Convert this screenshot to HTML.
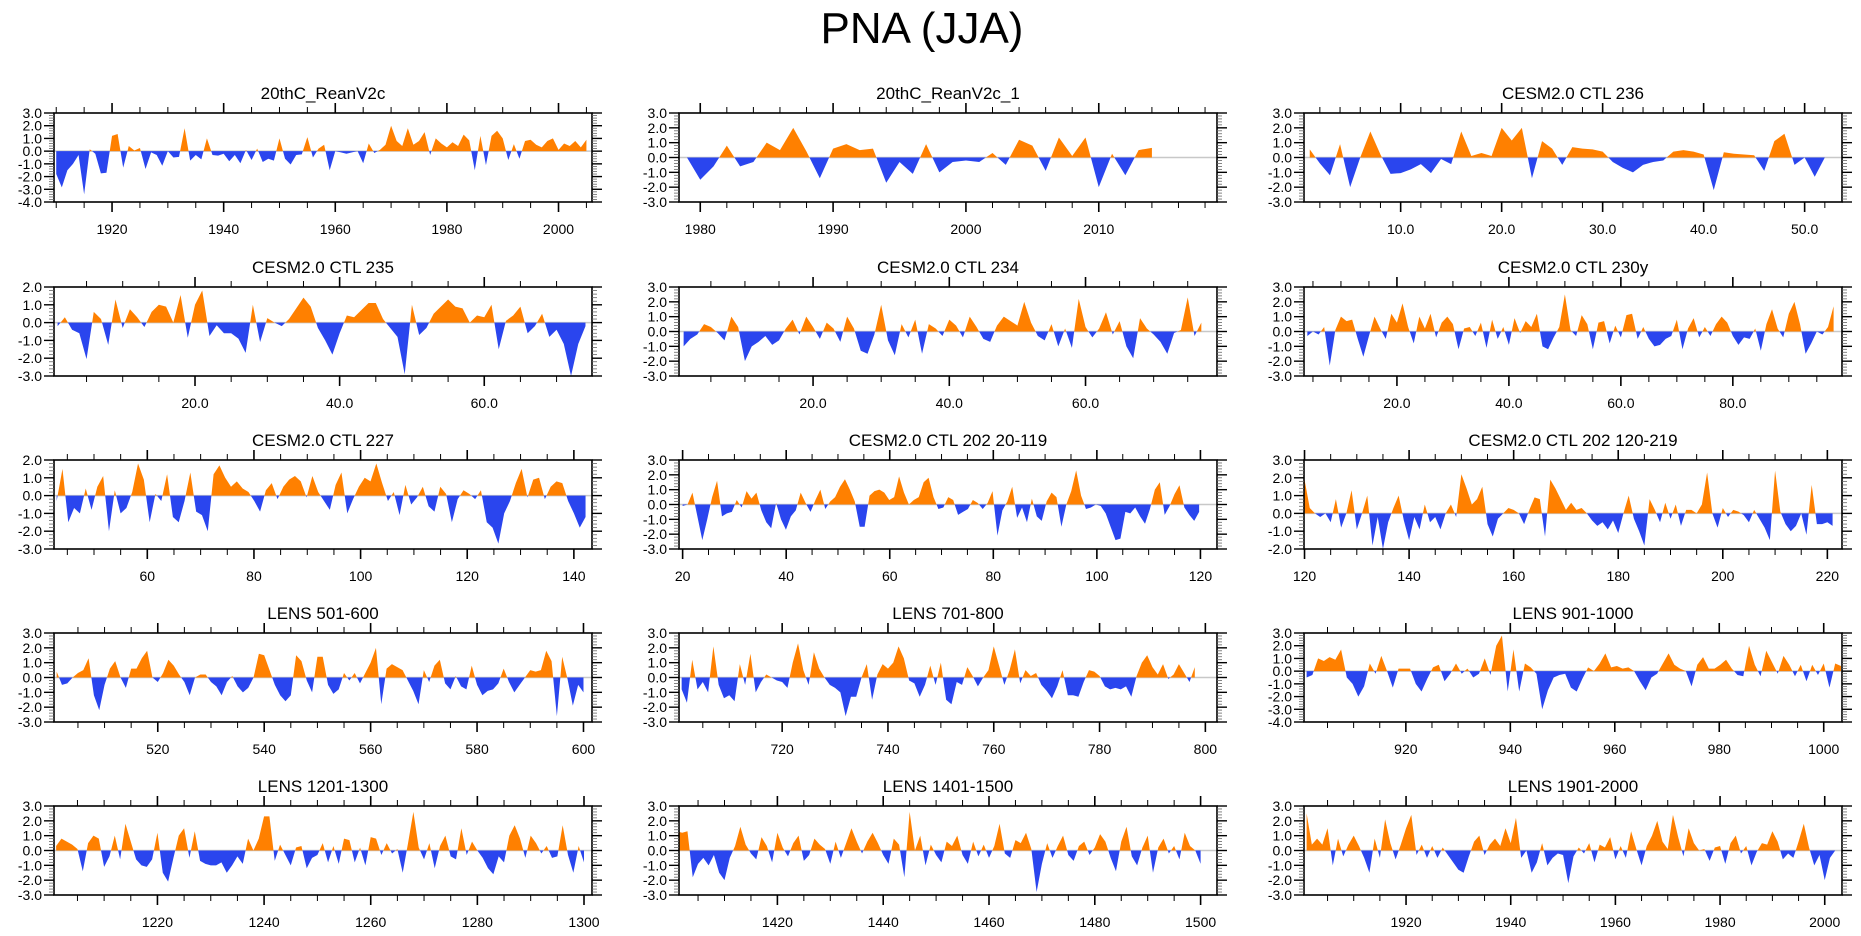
<!DOCTYPE html>
<html><head><meta charset="utf-8"><title>PNA (JJA)</title>
<style>html,body{margin:0;padding:0;background:#fff}svg{display:block}</style></head>
<body>
<svg id="chart" xmlns="http://www.w3.org/2000/svg" width="1861" height="936" viewBox="0 0 1861 936" font-family="Liberation Sans, sans-serif">
<rect width="1861" height="936" fill="#fff"/>
<text x="922" y="43" font-size="44" text-anchor="middle" fill="#000">PNA (JJA)</text>
</svg>
<script>
const titles=["20thC_ReanV2c","20thC_ReanV2c_1","CESM2.0 CTL 236","CESM2.0 CTL 235","CESM2.0 CTL 234","CESM2.0 CTL 230y","CESM2.0 CTL 227","CESM2.0 CTL 202 20-119","CESM2.0 CTL 202 120-219","LENS 501-600","LENS 701-800","LENS 901-1000","LENS 1201-1300","LENS 1401-1500","LENS 1901-2000"];
const starts=[1910,1979,1,1,1,4,43,20,120,501,701,901,1201,1401,1901];
const steps=[1,1,1,1,1,1,1.09,0.95,1.0,1,1,1.1,1,1,1];
const xMins=[1909.6,1978.4,0.43,0.5,0.32,3.4,42.5,19.3,119.9,500.5,700.5,900.5,1200.6,1401.4,1900.5];
const xMaxs=[2006,2018.9,53.7,74.9,79.3,99.5,143.4,123.2,222.8,601.6,802.2,1003.5,1301.5,1503.1,2003.3];
const yTops=[3,3,3,2,3,3,2,3,3,3,3,3,3,3,3];
const yBots=[-4,-3,-3,-3,-3,-3,-3,-3,-2,-3,-3,-4,-3,-3,-3];
const majorSteps=[20,10,10,20,20,20,20,20,20,20,20,20,20,20,20];
const minorSteps=[5,2,2,5,5,5,5,5,5,5,5,5,5,5,5];
const labelDecimals=[0,0,1,1,1,1,0,0,0,0,0,0,0,0,0];

const v1=[-1.8,-2.85,-1.5,-1.0,-0.3,-3.4,0.15,-0.2,-1.75,-1.7,1.2,1.35,-1.3,0.4,0.05,0.25,-1.4,-0.1,-0.3,-1.15,0.0,-0.5,-0.45,1.8,-0.75,-0.3,-0.65,1.0,-0.3,-0.35,-0.2,-0.8,-0.3,-0.95,0.1,-0.7,0.2,-0.85,-0.6,-0.75,1.0,-0.6,-1.05,-0.3,-0.25,1.1,-0.5,0.2,0.5,-1.5,0.0,-0.1,-0.2,-0.1,0.0,-0.95,0.6,-0.15,0.1,0.5,2.0,0.8,0.4,1.8,0.5,0.8,1.5,-0.3,1.0,0.6,0.3,0.7,0.4,1.3,0.85,-1.5,1.2,-1.1,1.2,1.6,1.0,-0.7,0.55,-0.6,0.8,0.9,0.5,0.3,0.8,1.0,0.1,0.6,0.4,0.8,0.3,0.9];
const v2=[0,-1.5,-0.6,0.8,-0.6,-0.3,1.0,0.5,2.0,0.4,-1.4,0.6,0.9,0.5,0.6,-1.7,-0.3,-1.1,0.9,-1.0,-0.3,-0.2,-0.3,0.3,-0.5,1.2,0.8,-0.9,1.35,0.1,1.35,-2.0,0.25,-1.2,0.5,0.65];
const v3=[0.55,-0.4,-1.2,0.9,-2.0,0.0,1.75,0.2,-1.1,-1.05,-0.8,-0.45,-1.05,-0.1,-0.45,1.75,0.1,0.3,0.1,2.0,1.15,2.0,-1.4,1.1,0.6,-0.5,0.7,0.6,0.55,0.4,-0.3,-0.7,-1.0,-0.5,-0.3,-0.2,0.4,0.5,0.4,0.2,-2.2,0.35,0.25,0.2,0.15,-0.9,1.1,1.6,-0.5,0.0,-1.3,0.0];
const v4=[-0.2,0.3,-0.4,-0.6,-2.05,0.6,0.2,-1.25,1.3,-0.3,0.75,0.3,-0.25,0.6,1.0,0.9,0.0,1.55,-0.85,1.0,1.8,-0.75,-0.15,-0.6,-0.6,-0.9,-1.7,1.0,-1.1,0.25,0.0,-0.2,0.2,0.8,1.4,0.9,-0.3,-1.0,-1.8,-0.6,0.4,0.3,0.7,1.1,1.1,0.2,-0.3,-0.8,-2.9,1.0,-0.7,-0.3,0.5,0.9,1.3,0.9,0.8,0.0,0.4,0.3,1.0,-1.5,0.1,0.4,0.9,-0.6,-0.2,0.5,-0.8,-0.4,-1.2,-3.0,-1.2,-0.2];
const v5=[-1.0,-0.5,-0.2,0.5,0.3,-0.1,-0.6,1.0,0.3,-2.0,-1.0,-0.7,-0.3,-0.9,-0.6,0.2,0.8,-0.2,1.0,0.3,-0.5,0.6,0.2,-0.7,1.0,0.2,-1.3,-1.5,-0.2,1.8,-0.6,-1.6,0.5,-0.4,0.8,-1.5,0.5,0.2,-0.3,0.8,0.4,-0.4,1.0,0.3,-0.5,-0.7,0.4,1.0,0.7,0.4,2.0,0.6,-0.3,-0.6,0.5,-1.0,0.2,-1.1,2.2,0.3,-0.4,0.2,1.3,-0.2,0.7,-1.0,-1.8,0.9,0.2,-0.2,-0.7,-1.5,-0.1,0.1,2.3,-0.3,0.6];
const v6=[-0.3,0.0,-0.2,0.3,-2.3,0.1,1.0,0.7,0.8,-0.5,-1.7,-0.3,1.0,0.2,-0.5,1.2,0.6,1.9,0.3,-0.8,1.0,0.2,1.2,-0.4,0.6,1.0,0.5,-1.2,0.2,0.3,-0.3,0.6,-1.1,0.8,-0.5,0.3,-0.9,0.9,-0.1,0.7,0.3,1.2,-1.0,-1.2,-0.4,0.3,2.5,0.1,-0.3,1.1,0.5,-1.2,0.6,0.7,-0.8,0.4,-0.4,1.1,1.2,-0.5,0.3,-0.5,-1.0,-0.9,-0.5,-0.3,0.8,-1.2,0.2,0.9,-0.4,0.3,-0.3,0.5,1.0,0.6,-0.3,-0.9,-0.4,-0.5,0.2,-1.3,0.5,1.5,0.2,-0.4,1.2,2.0,0.5,-1.5,-0.8,0.0,-0.2,0.3,1.7];
const v7=[-0.3,1.5,-1.5,-0.7,-1.0,0.4,-0.8,0.5,1.1,-2.0,0.3,-1.0,-0.7,0.2,1.8,0.9,-1.5,0.1,-0.3,1.2,-1.2,-1.5,-0.3,1.3,-0.9,-1.1,-2.0,1.2,1.7,1.0,0.5,0.8,0.4,0.2,-0.3,-0.9,0.3,0.7,-0.2,0.5,0.9,1.1,0.8,-0.1,1.1,0.2,-0.3,-0.8,0.6,1.3,-1.0,-0.2,0.5,1.0,0.8,1.8,0.7,-0.3,0.2,-1.1,0.6,-0.5,-0.1,0.5,-0.6,-0.9,0.5,0.1,-1.5,-0.2,0.3,0.1,-0.2,0.3,-1.5,-1.8,-2.7,-1.0,-0.3,0.7,1.5,-0.1,0.9,1.0,-0.2,0.5,0.8,0.7,-0.3,-1.0,-1.8,-1.2];
const v8=[-0.1,0.0,0.8,-0.8,-2.4,-1.0,0.5,1.6,-0.8,-0.6,-0.5,0.3,-0.2,0.9,0.4,0.8,-0.4,-1.2,-1.6,0.1,-1.0,-1.7,-0.8,-0.4,0.8,0.1,-0.5,0.3,1.0,-0.3,0.2,0.5,1.2,1.7,1.0,0.2,-1.5,-1.5,0.6,0.9,1.0,0.8,0.3,0.5,1.9,0.8,0.0,0.3,0.5,1.5,1.8,0.5,-0.3,-0.2,0.5,0.3,-0.7,-0.5,-0.3,0.3,0.1,-0.3,0.1,0.9,-2.1,-0.4,0.2,1.2,-0.9,-0.2,-1.2,0.4,-0.8,-1.1,0.2,0.8,0.5,-1.5,0.0,0.9,2.3,0.6,-0.3,-0.2,0.0,-0.1,-0.6,-1.5,-2.4,-2.3,-0.5,-0.6,-0.2,-0.8,-1.3,-0.3,1.0,1.5,-0.7,-0.1,0.7,1.3,-0.2,-0.7,-1.1,-0.5];
const v9=[1.9,0.3,0.0,-0.2,0.0,-0.5,0.8,-0.8,0.0,1.3,-0.9,0.0,1.0,-1.8,-0.2,-2.0,-0.5,0.3,1.0,-0.4,-1.5,-0.2,-0.9,0.5,-0.5,-0.2,-0.9,0.0,0.5,-0.2,2.2,1.4,0.5,0.8,1.5,-0.6,-1.3,-0.3,0.0,0.3,0.2,0.0,-0.6,0.2,0.9,0.8,-1.3,1.9,1.4,0.8,0.2,0.6,0.2,0.3,0.0,-0.4,-0.7,-0.5,-0.9,-0.4,-1.1,0.0,1.0,-0.3,-1.0,-1.8,0.8,0.2,-0.5,0.6,-0.3,0.5,-0.7,0.2,0.2,0.0,0.5,2.3,0.0,-0.8,0.3,-0.2,0.2,0.1,-0.1,-0.5,0.2,-0.3,-0.8,-1.5,2.4,0.1,-0.6,-1.0,-0.7,0.0,-1.2,1.6,-0.6,-0.6,-0.5,-0.7];
const v10=[0.4,-0.5,-0.4,0.0,0.3,0.5,1.3,-1.2,-2.2,-0.5,0.6,1.1,0.0,-0.7,0.6,0.6,1.3,1.8,0.0,-0.3,0.3,1.2,0.8,0.2,-0.3,-1.2,0.0,0.2,0.2,-0.3,-0.6,-1.2,-0.3,0.1,-0.6,-1.0,-0.7,0.0,1.6,1.5,0.5,-0.5,-1.2,-1.6,-1.2,1.5,1.1,-0.2,-1.0,1.4,1.4,-0.5,-1.1,-0.8,0.3,-0.2,0.3,-0.4,0.3,1.0,2.0,-1.8,0.6,0.9,0.7,0.5,-0.2,-0.9,-1.8,0.5,-0.3,0.8,1.2,-0.4,-0.8,0.1,-0.6,-0.8,0.8,-0.5,-1.2,-0.9,-0.8,-0.4,0.6,-0.3,-1.0,-0.5,0.0,0.5,0.4,0.5,1.8,1.1,-2.6,1.4,-0.1,-1.9,-0.5,-1.0];
const v11=[-0.8,-1.7,1.2,-0.8,-0.3,-1.0,2.1,-0.5,-1.4,-1.2,-1.6,0.9,-0.5,1.6,-1.0,-0.3,0.2,0.0,-0.2,-0.3,-0.7,1.0,2.3,0.5,-0.5,1.7,0.6,0.0,-0.5,-0.7,-1.0,-2.6,-1.3,-1.3,0.0,0.9,-1.5,0.2,0.9,0.6,1.0,2.1,1.3,-0.2,-0.4,-1.3,-0.5,0.8,-0.5,1.0,-1.5,-1.8,-0.3,-0.5,0.7,0.1,-0.6,0.0,0.5,2.1,0.8,-0.5,0.5,1.9,-0.4,0.5,0.1,0.3,-0.5,-0.9,-1.4,-0.6,0.5,-1.2,-1.2,-1.3,-0.3,0.5,0.4,0.1,-0.6,-0.8,-0.7,-0.8,-0.6,-1.3,0.1,1.0,1.5,0.7,0.2,0.9,-0.1,0.2,0.9,0.3,-0.3,0.7];
const v12=[-0.5,-0.3,1.0,0.8,1.1,0.9,1.7,-0.5,-1.0,-2.0,-1.2,0.6,-0.2,1.2,0.0,-1.3,0.2,0.2,0.2,-1.0,-1.6,-0.6,0.3,0.5,-0.8,-0.2,0.6,-0.2,0.2,-0.5,-0.2,1.0,-0.3,2.0,2.8,-1.6,1.7,-1.6,0.6,0.3,-0.2,-3.0,-1.5,-0.5,-0.3,-0.2,-1.3,-1.6,-0.6,0.3,0.0,0.6,1.4,0.3,0.4,0.2,0.3,0.0,-0.8,-1.5,-0.5,-0.2,0.6,1.4,0.5,0.2,0.0,-1.2,0.5,1.1,0.2,0.2,0.5,0.9,0.2,-0.3,-0.4,2.0,0.5,-0.4,1.6,0.7,-0.2,1.2,0.5,-0.4,0.5,-0.8,0.5,-0.3,0.6,-1.3,0.6,0.4];
const v13=[0.3,0.8,0.6,0.4,0.1,-1.4,0.5,1.0,0.8,-1.1,-0.4,1.0,-0.6,1.8,0.6,-0.6,-1.0,-1.1,-0.6,1.2,-1.5,-2.1,-0.5,1.0,1.5,-0.5,1.3,-0.7,-0.9,-1.0,-1.0,-0.8,-1.5,-1.0,-0.4,-0.9,0.8,0.0,0.8,2.3,2.3,-0.7,0.4,-0.3,-1.0,0.2,0.3,-1.2,-0.5,-0.3,0.5,-0.8,0.3,-0.9,0.8,0.7,-0.8,0.2,-1.0,0.9,0.8,-0.3,0.5,-0.2,0.1,-1.5,0.5,2.6,0.2,-0.6,0.5,-1.2,0.3,1.0,-0.4,-0.6,1.5,-0.3,0.6,0.0,-0.5,-1.2,-1.6,-0.4,-0.8,1.0,1.7,0.8,-0.5,1.0,0.5,-0.2,0.3,-0.5,-0.4,1.7,-0.3,-1.5,0.3,-0.8];
const v14=[1.3,1.2,1.3,-1.8,-0.9,-0.5,-1.0,-0.3,-1.5,-2.0,-0.5,0.3,1.6,0.4,-0.2,-0.6,0.9,0.3,-0.8,1.2,0.2,-0.4,0.5,1.0,-0.7,-0.3,0.8,0.4,0.1,-0.9,0.6,-0.5,0.5,1.5,0.6,-0.2,0.6,1.2,0.5,-0.3,-0.9,0.8,0.4,-1.8,2.6,0.0,1.0,-1.0,0.4,-0.3,-0.8,0.6,0.3,1.0,-0.3,-0.9,0.6,-0.4,0.4,-0.5,0.3,1.8,-0.2,-0.5,0.7,0.5,1.2,0.1,-2.8,-0.9,0.5,-0.5,0.3,1.0,-0.3,-0.7,0.3,0.6,-0.3,0.2,1.1,0.6,-0.5,-1.4,0.6,1.6,-0.4,-1.0,0.2,1.0,-1.5,0.2,0.8,-0.2,0.3,-0.6,1.2,0.3,0.0,-0.9];
const v15=[2.5,0.4,0.8,0.4,1.5,-1.0,0.8,-0.4,0.4,1.0,0.3,-0.5,-1.5,0.8,-0.5,2.1,0.5,-0.6,0.4,1.5,2.4,-0.3,0.4,-0.5,0.3,-0.5,0.2,-0.3,-0.8,-1.3,-1.5,-0.4,0.6,1.0,-0.3,0.4,0.8,0.3,1.5,0.5,2.2,-0.5,0.0,-1.5,-0.8,0.5,-1.0,-0.5,-0.2,-0.3,-2.2,-0.4,0.2,-0.2,0.5,-0.8,0.4,0.2,0.9,-0.6,0.3,-0.5,1.3,0.1,-1.0,0.3,1.0,2.0,0.6,0.1,2.4,0.9,-0.4,1.5,0.5,0.0,0.1,-0.7,0.2,0.3,-0.9,0.5,1.0,-0.2,0.3,-1.0,-0.1,0.5,0.4,1.3,0.6,-0.6,-0.2,-0.5,0.6,1.8,0.2,-1.0,-0.3,-2.0,-0.5,0.0];
const series=[v1,v2,v3,v4,v5,v6,v7,v8,v9,v10,v11,v12,v13,v14,v15];

const NS='http://www.w3.org/2000/svg';
const svg=document.getElementById('chart');
const colLeft=[54,679,1304], rowTop=[113,287,460,633,806], W=538, H=89;
function mk(tag,attrs,parent){const e=document.createElementNS(NS,tag);for(const k in attrs)e.setAttribute(k,attrs[k]);parent.appendChild(e);return e;}

for(let p=0;p<15;p++){
  const L=colLeft[p%3], T=rowTop[Math.floor(p/3)];
  const g=mk('g',{},svg);
  
  
  const xs=v=>L+(v-xMins[p])/(xMaxs[p]-xMins[p])*W;
  const ys=v=>T+(yTops[p]-v)/(yTops[p]-yBots[p])*H;
  const cid='clip'+p;
  const cp=mk('clipPath',{id:cid},g); mk('rect',{x:L,y:T,width:W,height:H},cp);
  const zl=mk('line',{x1:L,x2:L+W,y1:ys(0),y2:ys(0),stroke:'#c8c8c8','stroke-width':1.5},g);
  
  
  const vals=series[p], pts=[];
  for(let i=0;i<vals.length;i++){
    const x=starts[p]+i*steps[p], v=vals[i];
    if(i>0){const x0=x-steps[p],v0=vals[i-1];if((v0>0&&v<0)||(v0<0&&v>0)){const t=v0/(v0-v);pts.push([x0+t*steps[p],0]);}}
    pts.push([x,v]);
  }
  const fx=pts[0][0], lx=pts[pts.length-1][0];
  function area(sign){
    let d='M'+xs(fx)+','+ys(0);
    for(const q of pts){const v=sign>0?Math.max(q[1],0):Math.min(q[1],0);d+='L'+xs(q[0]).toFixed(2)+','+ys(v).toFixed(2);}
    d+='L'+xs(lx)+','+ys(0)+'Z';return d;
  }
  const pos=mk('path',{d:area(1),fill:'#ff8000','clip-path':'url(#'+cid+')'},g);
  
  
  const neg=mk('path',{d:area(-1),fill:'#2a45ee','clip-path':'url(#'+cid+')'},g);
  
  
  const fr=mk('rect',{x:L,y:T,width:W,height:H,fill:'none',stroke:'#000','stroke-width':1.6},g);
  
  
  const mn=minorSteps[p], mj=majorSteps[p];
  for(let t=Math.ceil(xMins[p]/mn)*mn;t<=xMaxs[p];t+=mn){
    const isMaj=Math.abs(t/mj-Math.round(t/mj))<1e-6, len=isMaj?10:6, x=xs(t);
    mk('line',{x1:x,x2:x,y1:T,y2:T-len,stroke:'#000','stroke-width':isMaj?1.6:1},g);
    mk('line',{x1:x,x2:x,y1:T+H,y2:T+H+len,stroke:'#000','stroke-width':isMaj?1.6:1},g);
    if(isMaj){
      const tl=mk('text',{x:x,y:T+H+32,'font-size':14,'text-anchor':'middle',fill:'#000'},g);
      tl.textContent=t.toFixed(labelDecimals[p]);
      
      
    }
  }
  for(let k=0;k<=(yTops[p]-yBots[p])*5;k++){
    const v=yTops[p]-k*0.2, isMaj=k%5===0, len=isMaj?10:5, y=ys(v);
    mk('line',{x1:L,x2:L-len,y1:y,y2:y,stroke:isMaj?'#000':'#666','stroke-width':isMaj?1.4:0.8},g);
    mk('line',{x1:L+W,x2:L+W+len,y1:y,y2:y,stroke:isMaj?'#000':'#666','stroke-width':isMaj?1.4:0.8},g);
    if(isMaj){
      const yl=mk('text',{x:L-12,y:y+5,'font-size':14,'text-anchor':'end',fill:'#000'},g);
      yl.textContent=(Math.abs(v)<1e-9?0:v).toFixed(1);
      
      
    }
  }
  const tt=mk('text',{x:L+W/2,y:T-14,'font-size':17,'text-anchor':'middle',fill:'#000'},g);
  tt.textContent=titles[p];
  
  
}
</script>
</body></html>
